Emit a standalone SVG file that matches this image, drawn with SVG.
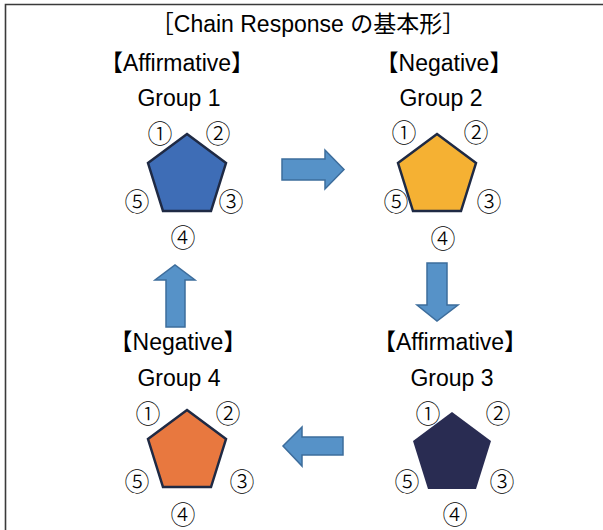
<svg xmlns="http://www.w3.org/2000/svg" width="603" height="530" viewBox="0 0 603 530">
<style>
.t{font-family:"Liberation Sans","Noto Sans CJK JP",sans-serif;fill:#000;text-anchor:middle}
.title{font-size:23px}
.lbl{font-size:23px}
.n{font-family:"Noto Sans CJK JP",sans-serif;font-size:25px;font-weight:300;fill:#000;text-anchor:middle;dominant-baseline:central}
.pent{stroke:#1f2a44;stroke-width:2.5;stroke-linejoin:miter}
.arr{fill:#5692c8;stroke:#3d6d9c;stroke-width:1.5}
</style>
<rect width="603" height="530" fill="#fff"/>
<path d="M5.5,530 V4.5 H603" fill="none" stroke="#3a3a3a" stroke-width="1.6"/>
<text class="t title" x="308" y="32">［Chain Response の基本形］</text>

<g id="group1">
<text class="t lbl" x="177" y="71">【Affirmative】</text>
<text class="t lbl" x="179" y="106">Group 1</text>
<polygon class="pent" fill="#3e6db6" points="187,134 226,163 211,211 163,211 148,163"/>
<text class="n" x="160" y="132">①</text><text class="n" x="218" y="132">②</text><text class="n" x="231" y="200">③</text><text class="n" x="183" y="236">④</text><text class="n" x="137" y="200">⑤</text>
</g>

<g id="group2">
<text class="t lbl" x="444" y="71">【Negative】</text>
<text class="t lbl" x="441" y="106">Group 2</text>
<polygon class="pent" fill="#f5b133" points="437,134 476,163 461,211 413,211 398,163"/>
<text class="n" x="404" y="131">①</text><text class="n" x="476" y="131">②</text><text class="n" x="489" y="200">③</text><text class="n" x="443" y="237">④</text><text class="n" x="396" y="200">⑤</text>
</g>

<g id="group3">
<text class="t lbl" x="450" y="350">【Affirmative】</text>
<text class="t lbl" x="452" y="386">Group 3</text>
<polygon fill="#292c52" points="452,412 491,441 476,489 428,489 413,441"/>
<text class="n" x="428" y="412">①</text><text class="n" x="498" y="412">②</text><text class="n" x="502" y="480">③</text><text class="n" x="455" y="513">④</text><text class="n" x="407" y="480">⑤</text>
</g>

<g id="group4">
<text class="t lbl" x="178" y="350">【Negative】</text>
<text class="t lbl" x="179" y="386">Group 4</text>
<polygon class="pent" fill="#e8783f" points="187,410 226,439 211,487 163,487 148,439"/>
<text class="n" x="148" y="412">①</text><text class="n" x="228" y="412">②</text><text class="n" x="242" y="480">③</text><text class="n" x="183" y="513">④</text><text class="n" x="137" y="480">⑤</text>
</g>

<g id="connectors">
<polygon class="arr" points="282,159 325,159 325,150 344,169.5 325,189 325,180 282,180"/>
<polygon class="arr" points="427,263 447,263 447,305 458,305 437,321 417,305 427,305"/>
<polygon class="arr" points="343,437 302,437 302,427 283,446 302,466 302,455 343,455"/>
<polygon class="arr" points="166,327 166,280 155,280 175,265 195,280 185,280 185,327"/>
</g>
</svg>
